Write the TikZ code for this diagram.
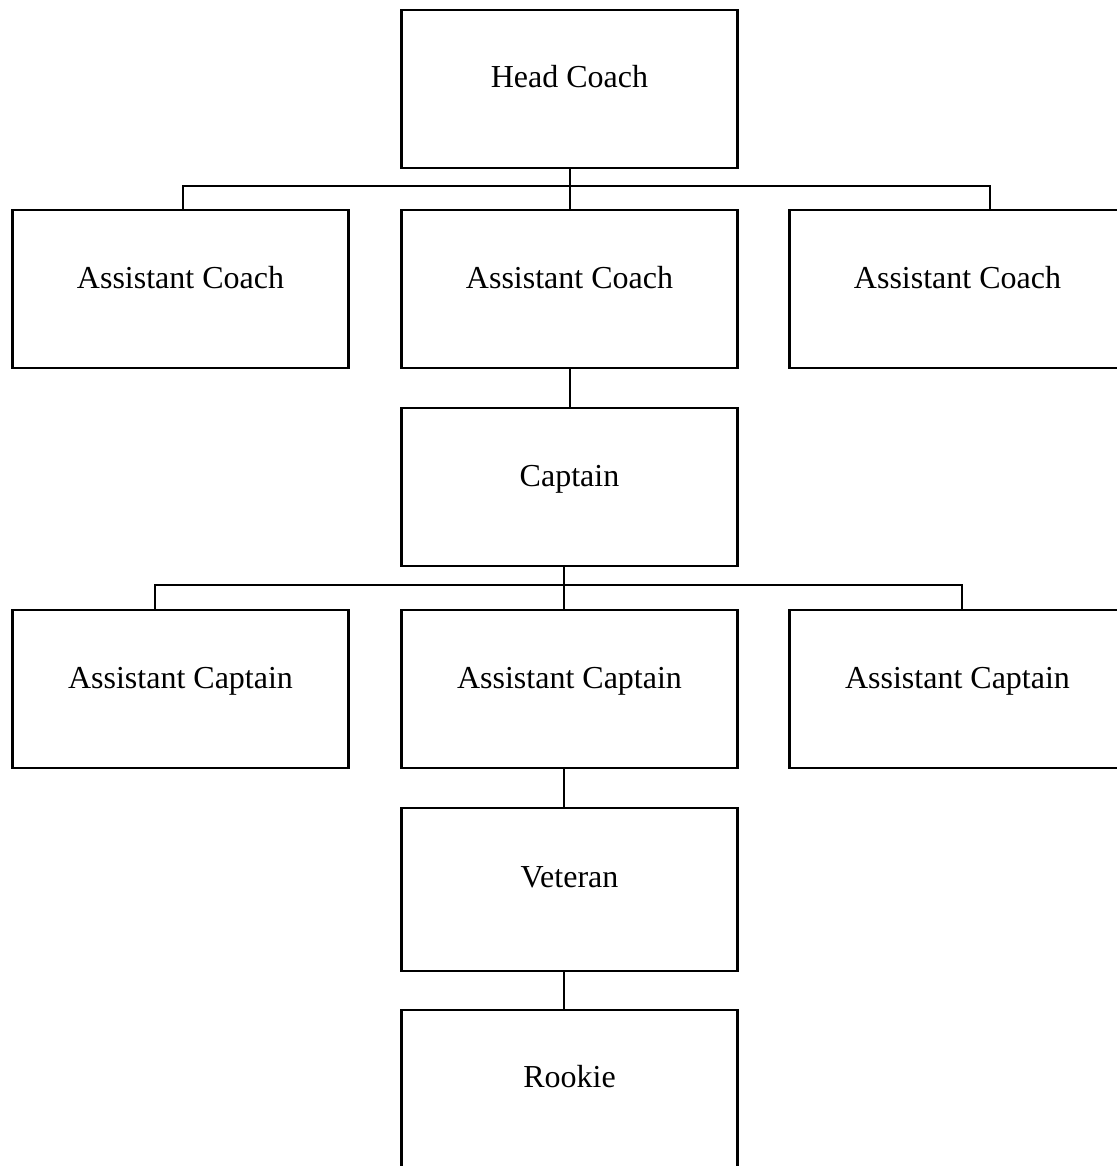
\documentclass[tikz,border=0pt]{standalone}
\usepackage{fontspec}
\setmainfont{Liberation Serif}
\usetikzlibrary{positioning}
\tikzset{
  role/.style={draw=black, line width=1.2pt, minimum width=168pt, minimum height=79pt, inner sep=0pt, text height=10pt, text depth=11pt, font=\fontsize{16pt}{19pt}\selectfont},
  link/.style={draw=black, line width=1pt}
}
\begin{document}
\begin{tikzpicture}
  \useasboundingbox (0,0) rectangle (558pt,-583pt);
  \node[role] (hc) at (284.75pt,-44.5pt) {Head Coach};
  \node[role, below=19.8pt of hc] (ac2) {Assistant Coach};
  \node[role, left=25.3pt of ac2] (ac1) {Assistant Coach};
  \node[role, right=24.8pt of ac2] (ac3) {Assistant Coach};
  \node[role, below=18.8pt of ac2] (cap) {Captain};
  \node[role, below=20.8pt of cap] (acap2) {Assistant Captain};
  \node[role, left=25.3pt of acap2] (acap1) {Assistant Captain};
  \node[role, right=24.8pt of acap2] (acap3) {Assistant Captain};
  \node[role, below=18.8pt of acap2, minimum height=81.5pt, text depth=12.3pt] (vet) {Veteran};
  \node[role, below=18.3pt of vet, minimum height=84pt, text depth=17pt] (rook) {Rookie};
  \coordinate (bus1) at ([yshift=-8.5pt]hc.south);
  \coordinate (bus2) at ([xshift=-2.75pt,yshift=-9pt]cap.south);
  \draw[link] (hc.south) -- (ac2.north);
  \draw[link] ([xshift=1pt]ac1.north) |- (bus1) -| ([xshift=16pt]ac3.north);
  \draw[link] (ac2.south) -- (cap.north);
  \draw[link] ([xshift=-2.75pt]cap.south) -- ([xshift=-2.75pt]acap2.north);
  \draw[link] ([xshift=-13pt]acap1.north) |- (bus2) -| ([xshift=2pt]acap3.north);
  \draw[link] ([xshift=-2.75pt]acap2.south) -- ([xshift=-2.75pt]vet.north);
  \draw[link] ([xshift=-2.75pt]vet.south) -- ([xshift=-2.75pt]rook.north);
\end{tikzpicture}
\end{document}
